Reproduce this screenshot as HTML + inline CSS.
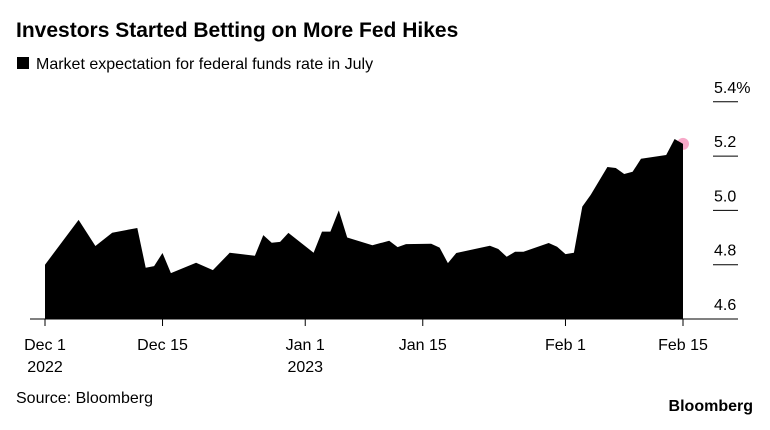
<!DOCTYPE html>
<html><head><meta charset="utf-8"><style>
body{margin:0;background:#fff;width:770px;height:425px;overflow:hidden;font-family:"Liberation Sans",Arial,sans-serif;}
</style></head><body>
<svg width="770" height="425" xmlns="http://www.w3.org/2000/svg" font-family="Liberation Sans, Arial, sans-serif">
<text x="16" y="37" font-size="21" font-weight="bold" fill="#000">Investors Started Betting on More Fed Hikes</text>
<rect x="17" y="57" width="12" height="12" fill="#000"/>
<text x="36" y="69" font-size="16" fill="#000">Market expectation for federal funds rate in July</text>
<g id="plot"></g>
<text x="16" y="403" font-size="16" fill="#000">Source: Bloomberg</text>
<text x="753" y="411" font-size="16" font-weight="bold" fill="#000" text-anchor="end">Bloomberg</text>
</svg>
<script>
const days=[0,4,6,8,11,12,13,14,15,18,20,22,25,26,27,28,29,32,33,34,35,36,39,41,42,43,46,47,48,49,53,54,55,56,57,60,61,62,63,64,65,67,68,69,70,71,74,75,76];
const values=[4.80,4.965,4.869,4.918,4.935,4.789,4.795,4.843,4.769,4.807,4.78,4.844,4.833,4.909,4.881,4.884,4.917,4.844,4.922,4.922,5.0,4.90,4.872,4.888,4.865,4.876,4.877,4.863,4.806,4.843,4.87,4.858,4.829,4.848,4.848,4.88,4.866,4.839,4.844,5.014,5.057,5.16,5.156,5.134,5.142,5.19,5.204,5.263,5.245];
const yTicks=[4.6,4.8,5.0,5.2,5.4];
const yTickLabels=["4.6","4.8","5.0","5.2","5.4%"];
const xTickDays=[0,14,31,45,62,76];
const xTickLabels=[["Dec 1","2022"],["Dec 15"],["Jan 1","2023"],["Jan 15"],["Feb 1"],["Feb 15"]];
const NS="http://www.w3.org/2000/svg";
const g=document.getElementById('plot');
const x=d=>45+d*(683-45)/76;
const y=v=>319-(v-4.6)*271.5;
function mk(t,a){const e=document.createElementNS(NS,t);for(const k in a)e.setAttribute(k,a[k]);g.appendChild(e);return e;}
let d=`M${x(days[0])},${y(4.6)}`;
days.forEach((dd,i)=>{d+=` L${x(dd).toFixed(1)},${y(values[i]).toFixed(1)}`;});
d+=` L${x(days[days.length-1])},${y(4.6)} Z`;
const area=mk('path',{d:d,fill:'#000'});


const base=mk('line',{x1:30,x2:738,y1:y(4.6),y2:y(4.6),stroke:'#000','stroke-width':1});


yTicks.forEach((v,i)=>{
  if(i>0){const l=mk('line',{x1:713,x2:738,y1:y(v),y2:y(v),stroke:'#000','stroke-width':1});
  
  }
  const t=mk('text',{x:714,y:y(v)-9,'font-size':16,fill:'#000'});t.textContent=yTickLabels[i];
  
  
});
xTickDays.forEach((dd,i)=>{
  const l=mk('line',{x1:x(dd),x2:x(dd),y1:y(4.6),y2:y(4.6)+7,stroke:'#000','stroke-width':1});
  
  
  xTickLabels[i].forEach((s,j)=>{
    const t=mk('text',{x:x(dd),y:350+j*22,'font-size':16,fill:'#000','text-anchor':'middle'});t.textContent=s;
    
    
  });
});
const li=days.length-1;
const dot=mk('circle',{cx:x(days[li]),cy:y(values[li]),r:6,fill:'#f7a8c8'});


g.insertBefore(dot,area);
</script>
</body></html>
